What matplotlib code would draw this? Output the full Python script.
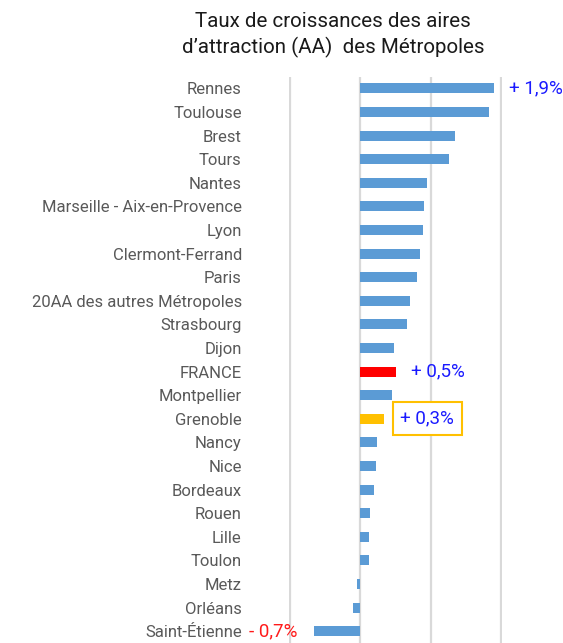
import matplotlib
matplotlib.use("Agg")
import matplotlib.pyplot as plt

plt.rcParams['font.family'] = ['Roboto', 'DejaVu Sans']

# Data (growth rate, %), top to bottom
areas = ["Rennes", "Toulouse", "Brest", "Tours", "Nantes",
         "Marseille - Aix-en-Provence", "Lyon", "Clermont-Ferrand", "Paris",
         "20AA des autres Métropoles", "Strasbourg", "Dijon", "FRANCE",
         "Montpellier", "Grenoble", "Nancy", "Nice", "Bordeaux", "Rouen",
         "Lille", "Toulon", "Metz", "Orléans", "Saint-Étienne"]
growth = [1.89, 1.83, 1.35, 1.26, 0.95, 0.90, 0.89, 0.85, 0.81, 0.71, 0.67,
          0.48, 0.50, 0.45, 0.33, 0.24, 0.22, 0.20, 0.14, 0.13, 0.13,
          -0.05, -0.10, -0.65]
gridticks = [-1, 0, 1, 2]

labelled = {"Rennes": "+ 1,9%", "FRANCE": "+ 0,5%",
            "Grenoble": "+ 0,3%", "Saint-Étienne": "- 0,7%"}

colors = []
for a in areas:
    if a == "FRANCE":
        colors.append('#FF0000')
    elif a == "Grenoble":
        colors.append('#FFC000')
    else:
        colors.append('#5B9BD5')

W, H = 563, 643
fig = plt.figure(figsize=(W / 100, H / 100), dpi=100)
ax = fig.add_axes([289 / W, 0, (502 - 289) / W, (643 - 76.6) / H])

ypos = list(range(len(areas)))
ax.barh(ypos, growth, height=0.42, color=colors, zorder=3)

ax.set_ylim(len(areas) - 0.5, -0.5)
ax.set_xlim(-1.01, 2.01)
ax.set_xticks(gridticks)
ax.xaxis.grid(True, color='#D9D9D9', linewidth=1.6, zorder=0)
ax.tick_params(axis='x', length=0, labelbottom=False)
ax.set_yticks(ypos)
ax.set_yticklabels(areas, fontsize=12, color='#595959')
ax.tick_params(axis='y', length=0, pad=34)
for s in ax.spines.values():
    s.set_visible(False)

# value labels
for i, (a, v) in enumerate(zip(areas, growth)):
    if a not in labelled:
        continue
    txt = labelled[a]
    if v < 0:
        ax.annotate(txt, xy=(v, i), xytext=(-12, 0), textcoords='offset points',
                    ha='right', va='center', fontsize=13.5, color='#FF1A1A',
                    annotation_clip=False)
    elif a == "Grenoble":
        ax.annotate(txt, xy=(v, i), xytext=(12, 0), textcoords='offset points',
                    ha='left', va='center', fontsize=13.5, color='#1A1AFF',
                    bbox=dict(boxstyle='square,pad=0.4', fc='white',
                              ec='#FFC000', lw=1.5),
                    zorder=5, annotation_clip=False)
    else:
        ax.annotate(txt, xy=(v, i), xytext=(11, 0), textcoords='offset points',
                    ha='left', va='center', fontsize=13.5, color='#1A1AFF',
                    annotation_clip=False)

fig.text(333 / W, 1 - 12 / H, "Taux de croissances des aires\nd’attraction (AA)  des Métropoles",
         ha='center', va='top', fontsize=14.8, color='#1a1a1a', linespacing=1.35)

fig.savefig("out.png", dpi=100)
